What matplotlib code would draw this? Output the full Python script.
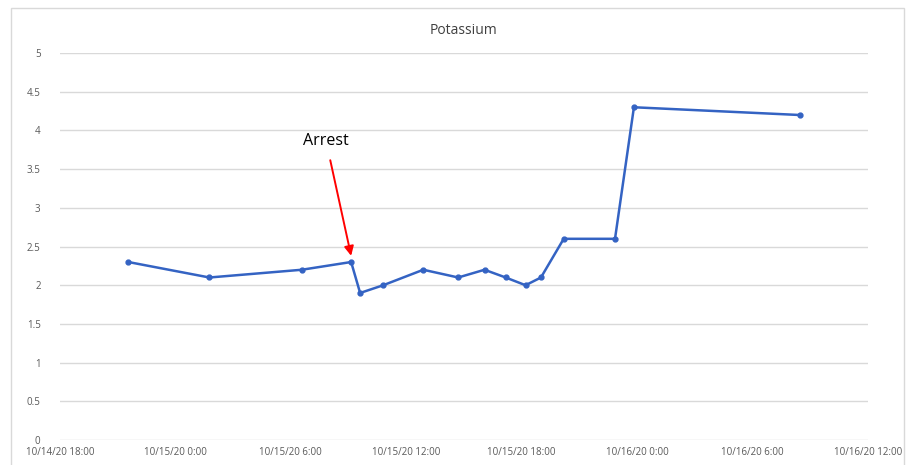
import numpy as np
import matplotlib.pyplot as plt
import matplotlib.dates as mdates
from matplotlib.patches import Rectangle
from datetime import datetime

# orari dei prelievi e valori di potassio
times = [
    "2020-10-14 21:33", "2020-10-15 01:46", "2020-10-15 06:34", "2020-10-15 09:08",
    "2020-10-15 09:36", "2020-10-15 10:48", "2020-10-15 12:53", "2020-10-15 14:42",
    "2020-10-15 16:04", "2020-10-15 17:10", "2020-10-15 18:12", "2020-10-15 19:00",
    "2020-10-15 20:11", "2020-10-15 22:51", "2020-10-15 23:50", "2020-10-16 08:27",
]
potassium = [2.3, 2.1, 2.2, 2.3, 1.9, 2.0, 2.2, 2.1, 2.2, 2.1, 2.0, 2.1, 2.6, 2.6, 4.3, 4.2]

x_start = "2020-10-14 18:00"
x_end = "2020-10-16 12:00"
arrest_time = "2020-10-15 09:08"
arrest_value = 2.3


def to_dt(s):
    return datetime.strptime(s, "%Y-%m-%d %H:%M")


def fmt_excel(val, pos=None):
    # come Excel: m/d/yy h:mm, ora senza zero iniziale
    d = mdates.num2date(val)
    return f"{d.month}/{d.day}/{d.year % 100:02d} {d.hour}:{d.minute:02d}"


def main():
    plt.rcParams['font.family'] = ['Open Sans', 'DejaVu Sans']
    x = [to_dt(t) for t in times]

    fig = plt.figure(figsize=(9.15, 4.65), dpi=100)
    ax = fig.add_axes([0.0656, 0.0538, 0.883, 0.832])

    # bordo esterno grigio chiaro
    fig.patches.append(Rectangle((0.012, -0.02), 0.976, 1.003, transform=fig.transFigure,
                                 fill=False, edgecolor='#d9d9d9', linewidth=1))

    ax.plot(x, potassium, color='#3463c3', linewidth=1.8, marker='o', markersize=3.5)

    ax.set_xlim(to_dt(x_start), to_dt(x_end))
    ax.set_ylim(0, 5)
    ax.set_yticks(np.arange(0, 5.01, 0.5))
    ax.set_yticklabels(['0', '0.5', '1', '1.5', '2', '2.5', '3', '3.5', '4', '4.5', '5'])
    ax.xaxis.set_major_locator(mdates.HourLocator(byhour=[0, 6, 12, 18]))
    ax.xaxis.set_major_formatter(plt.FuncFormatter(fmt_excel))

    ax.grid(axis='y', color='#d9d9d9', linewidth=1)
    ax.set_axisbelow(True)
    for s in ax.spines.values():
        s.set_visible(False)
    ax.tick_params(axis='both', length=0, labelsize=7, colors='#595959')
    ax.tick_params(axis='y', pad=14)
    ax.tick_params(axis='x', pad=5)

    ax.set_title('Potassium', fontsize=10, color='#404040', pad=14)

    ax.annotate('Arrest', xy=(to_dt(arrest_time), arrest_value + 0.08),
                xytext=(to_dt("2020-10-15 07:50"), 3.86), fontsize=11.5, color='black',
                ha='center', va='center',
                arrowprops=dict(arrowstyle='-|>', color='#ff0000', lw=1.4,
                                mutation_scale=14, shrinkA=6, shrinkB=0))

    fig.savefig('out.png', dpi=100)


if __name__ == "__main__":
    main()
